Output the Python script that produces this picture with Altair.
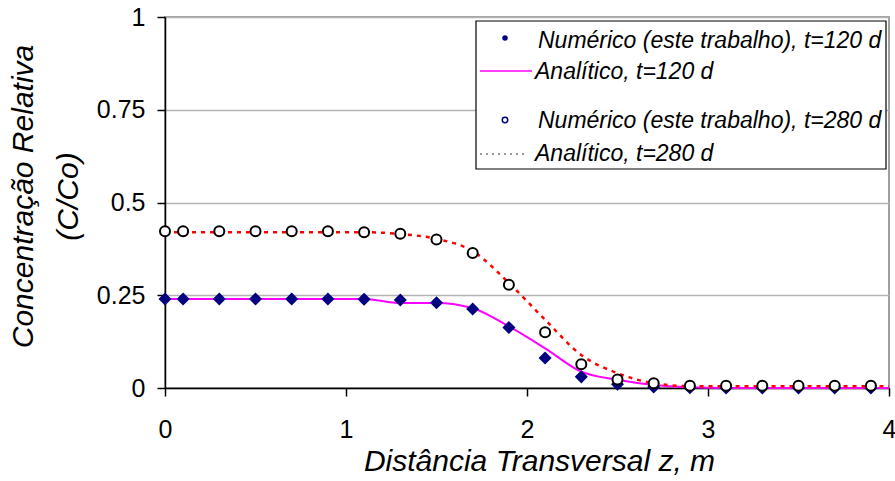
import altair as alt
import pandas as pd

# ---- data ----
z_num = [0, 0.1, 0.3, 0.5, 0.7, 0.9, 1.1, 1.3, 1.5, 1.7, 1.9, 2.1, 2.3, 2.5, 2.7,
         2.9, 3.1, 3.3, 3.5, 3.7, 3.9]
num_120 = [0.24, 0.24, 0.24, 0.24, 0.24, 0.24, 0.239, 0.237, 0.23, 0.213, 0.163,
           0.081, 0.03, 0.01, 0.003, 0.001, 0.0, 0.0, 0.0, 0.0, 0.0]
num_280 = [0.4225, 0.4225, 0.4225, 0.4225, 0.4225, 0.4225, 0.42, 0.416, 0.40,
           0.364, 0.278, 0.15, 0.064, 0.023, 0.013, 0.006, 0.006, 0.006, 0.006,
           0.006, 0.006]

z_an = [0, 0.1, 0.3, 0.5, 0.7, 0.9, 1.1, 1.3, 1.5, 1.7, 1.9, 2.1, 2.3, 2.5, 2.7,
        2.9, 3.1, 3.3, 3.5, 3.7, 3.9, 4.0]
an_120 = [0.24, 0.24, 0.24, 0.24, 0.24, 0.24, 0.24, 0.229, 0.229, 0.215, 0.166,
          0.107, 0.044, 0.022, 0.008, 0.002, 0.0, 0.0, 0.0, 0.0, 0.0, 0.0]
an_280 = [0.42, 0.42, 0.42, 0.42, 0.42, 0.42, 0.42, 0.415, 0.402, 0.369, 0.283,
          0.184, 0.089, 0.04, 0.013, 0.005, 0.005, 0.005, 0.005, 0.005, 0.005, 0.005]

x_ticks = [0, 1, 2, 3, 4]
y_ticks = [0, 0.25, 0.5, 0.75, 1]

legend_labels = ["Numérico (este trabalho), t=120 d", "Analítico, t=120 d",
                 "Numérico (este trabalho), t=280 d", "Analítico, t=280 d"]

FONT = "Liberation Sans"

df_num = pd.DataFrame({"z": z_num, "c120": num_120, "c280": num_280})
df_an = pd.DataFrame({"z": z_an, "a120": an_120, "a280": an_280})

xscale = alt.Scale(domain=[0, 4], nice=False, zero=False)
yscale = alt.Scale(domain=[0, 1], nice=False)

xaxis = alt.Axis(values=x_ticks, format="d", grid=False, title="Distância Transversal z, m",
                 titleFont=FONT, titleFontSize=30, titleFontStyle="italic",
                 titleFontWeight="normal", titleColor="black",
                 titleX=374, titleY=82, titleBaseline="alphabetic", titleAlign="center",
                 labelFont=FONT, labelFontSize=25, labelColor="black",
                 labelBaseline="alphabetic", labelPadding=41, labelFlush=False,
                 domainColor="black", domainWidth=1.5, tickColor="black",
                 tickWidth=1.5, tickSize=8)
yaxis = alt.Axis(values=y_ticks, format=".2~f", grid=True, gridColor="#b3b3b3",
                 gridWidth=1.5, title=["Concentração Relativa", "(C/Co)"],
                 titleFont=FONT, titleFontSize=30, titleFontStyle="italic",
                 titleFontWeight="normal", titleColor="black", titleAngle=270,
                 titleX=-127, titleY=179, titleBaseline="bottom", titleAlign="center",
                 titleLineHeight=45,
                 labelFont=FONT, labelFontSize=25, labelColor="black", labelPadding=12,
                 labelFlush=False,
                 domainColor="black", domainWidth=1.5, tickColor="black",
                 tickWidth=1.5, tickSize=8)

base_an = alt.Chart(df_an)
base_num = alt.Chart(df_num)

line120 = base_an.mark_line(color="#FF00FF", strokeWidth=2, interpolate="monotone").encode(
    x=alt.X("z:Q", scale=xscale, axis=xaxis),
    y=alt.Y("a120:Q", scale=yscale, axis=yaxis),
)
pts120 = base_num.mark_point(shape="diamond", filled=True, color="#000080", size=170,
                             opacity=1).encode(
    x=alt.X("z:Q", scale=xscale), y=alt.Y("c120:Q", scale=yscale))
line280 = base_an.mark_line(color="#FF0000", strokeWidth=2.5, strokeDash=[4, 5],
                            interpolate="monotone").encode(
    x=alt.X("z:Q", scale=xscale), y=alt.Y("a280:Q", scale=yscale))
pts280 = base_num.mark_point(shape="circle", filled=False, fill="white", fillOpacity=1,
                             stroke="black", strokeWidth=2, size=100, opacity=1).encode(
    x=alt.X("z:Q", scale=xscale), y=alt.Y("c280:Q", scale=yscale))

# ---- hand-made legend box (Excel style) ----
leg_df = pd.DataFrame({"k": [0]})
leg_box = alt.Chart(leg_df).mark_rect(fill="white", stroke="black", strokeWidth=1.2).encode(
    x=alt.value(311), x2=alt.value(721), y=alt.value(4), y2=alt.value(152))
leg_dot1 = alt.Chart(leg_df).mark_point(shape="circle", filled=True, color="#000080",
                                        size=30, opacity=1).encode(
    x=alt.value(340), y=alt.value(21))
leg_line2 = alt.Chart(leg_df).mark_rule(color="#FF00FF", strokeWidth=1.5).encode(
    x=alt.value(315), x2=alt.value(367), y=alt.value(54))
leg_dot3 = alt.Chart(leg_df).mark_point(shape="circle", filled=False, color="#000080",
                                        strokeWidth=1.5, size=30, opacity=1).encode(
    x=alt.value(340), y=alt.value(103))
leg_line4 = alt.Chart(leg_df).mark_rule(color="#333333", strokeWidth=1.2,
                                        strokeDash=[2, 4]).encode(
    x=alt.value(315), x2=alt.value(363), y=alt.value(137))

def leg_text(label, x, y):
    return alt.Chart(leg_df).mark_text(text=label, font=FONT, fontSize=23,
                                       fontStyle="italic", align="left",
                                       baseline="middle", color="black").encode(
        x=alt.value(x), y=alt.value(y))

texts = [leg_text(legend_labels[0], 373, 24), leg_text(legend_labels[1], 370, 55),
         leg_text(legend_labels[2], 373, 104), leg_text(legend_labels[3], 370, 137)]

chart = alt.layer(line120, pts120, line280, pts280, leg_box, leg_dot1, leg_line2,
                  leg_dot3, leg_line4, *texts).properties(
    width=724, height=371,
    autosize=alt.AutoSizeParams(type="none"),
    padding={"left": 165, "top": 17, "right": 6, "bottom": 93},
    background="white",
).configure_view(stroke="#a0a0a0", strokeWidth=2)

chart.save("out.html", embed_options={"renderer": "svg", "actions": False})
